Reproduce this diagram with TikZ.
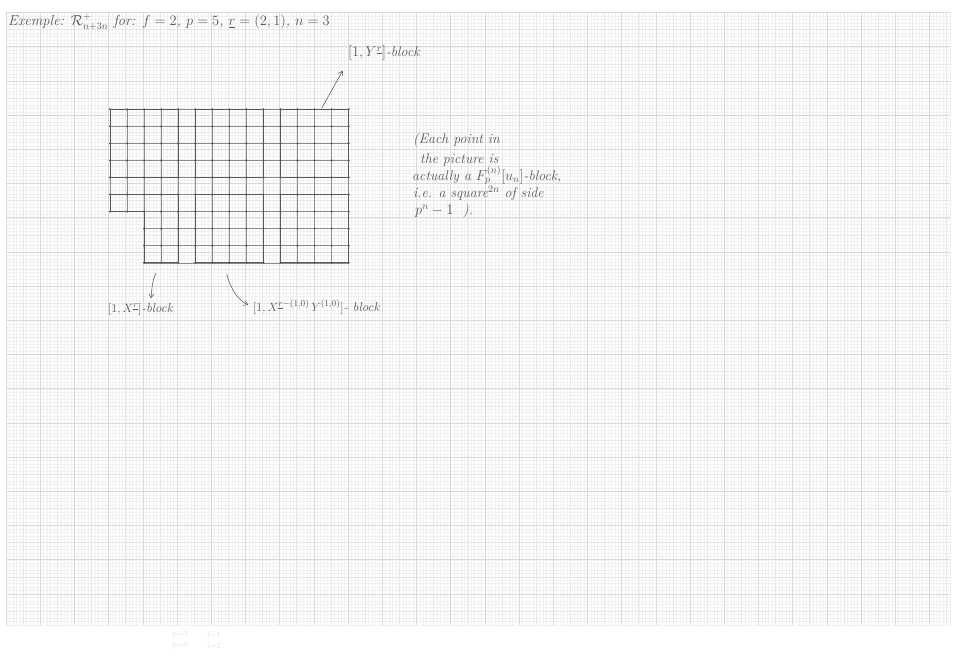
\documentclass[tikz,border=0pt]{standalone}
\usepackage{amssymb}
\usetikzlibrary{arrows.meta}
\definecolor{pencil}{HTML}{585858}
\definecolor{latgray}{HTML}{8C8C8C}
\definecolor{gridfine}{HTML}{F1F1F1}
\definecolor{gridmid}{HTML}{E7E7E7}
\definecolor{gridmaj}{HTML}{D9D9D9}
\begin{document}
\begin{tikzpicture}[x=1pt,y=-1pt,
  hand/.style={text=pencil, inner sep=0pt, anchor=west, font=\itshape\fontsize{14}{15}\selectfont},
  latline/.style={draw=latgray, line width=0.5pt},
  blockline/.style={draw=pencil, line width=0.8pt, line join=round},
  harrow/.style={draw=pencil, line width=0.55pt, -{Straight Barb[length=4pt,width=5pt]}},
  faint/.style={text=gray!22, inner sep=0pt, anchor=west, font=\fontsize{8}{9}\selectfont}]
\useasboundingbox (0,0) rectangle (954,661);
\fill[white] (0,0) rectangle (954,661);
% ---- graph paper ----
\foreach \i in {0,...,276} \draw[gridfine, line width=0.35pt] ({6+3.42*\i},12.5) -- ({6+3.42*\i},624.7);
\foreach \j in {0,...,179} \draw[gridfine, line width=0.35pt] (6,{12.5+3.42*\j}) -- (950,{12.5+3.42*\j});
\foreach \i in {0,5,...,275} \draw[gridmid, line width=0.45pt] ({6+3.42*\i},12.5) -- ({6+3.42*\i},624.7);
\foreach \j in {0,5,...,175} \draw[gridmid, line width=0.45pt] (6,{12.5+3.42*\j}) -- (950,{12.5+3.42*\j});
\foreach \i in {0,10,...,270} \draw[gridmaj, line width=0.6pt] ({6+3.42*\i},12.5) -- ({6+3.42*\i},624.7);
\foreach \j in {0,10,...,170} \draw[gridmaj, line width=0.6pt] (6,{12.5+3.42*\j}) -- (950,{12.5+3.42*\j});
% ---- lattice of blocks ----
\begin{scope}[shift={(110pt,-109.3pt)}, x=17.05pt, y=-17.05pt]
  \foreach \c in {0,1} \draw[latline] (\c,0) -- (\c,6);
  \foreach \c in {2,...,14} \draw[latline] (\c,0) -- (\c,9);
  \foreach \r in {0,...,6} \draw[latline] (0,\r) -- (14,\r);
  \foreach \r in {7,8,9} \draw[latline] (2,\r) -- (14,\r);
  \draw[blockline] (0,0) rectangle (4,4);
  \draw[blockline] (5,0) rectangle (9,4);
  \draw[blockline] (10,0) rectangle (14,4);
  \draw[blockline] (5,5) rectangle (9,9);
  \draw[blockline] (10,5) rectangle (14,9);
  \draw[blockline] (0,5) -- (4,5) -- (4,9) -- (2,9) -- (2,6) -- (0,6) -- cycle;
  \foreach \c in {0,...,14} \foreach \r in {0,...,6} \fill[pencil] (\c,\r) circle[radius=1.15pt];
  \foreach \c in {2,...,14} \foreach \r in {7,8,9} \fill[pencil] (\c,\r) circle[radius=1.15pt];
\end{scope}
% ---- texts ----
\node[hand, font=\itshape\fontsize{14.5}{16}\selectfont] (title) at (8,22)
  {Exemple: $\mathcal{R}^{+}_{n+3n}$ for: $f=2$, $p=5$, $\underline{r}=(2,1)$, $n=3$};
\node[hand] (yblock) at (348,53) {$[1, Y^{\underline{r}}]$-block};
\node[hand, font=\itshape\fontsize{13}{14}\selectfont] (xblock) at (108,309) {$[1, X^{\underline{r}}]$-block};
\node[hand, font=\itshape\fontsize{13}{14}\selectfont] (xyblock) at (253,307)
  {$[1, X^{\underline{r}-(1,0)}\,Y^{(1,0)}]$- block};
\node[hand] (n1) at (413,140) {(Each point in};
\node[hand] (n2) at (420,160) {the picture is};
\node[hand] (n3) at (412,175) {actually a $F_{p}^{(n)}[u_n]$-block,};
\node[hand] (n4) at (413,193) {i.e. a square$^{2n}$ of side};
\node[hand] (n5) at (415,211) {$p^{n}-1$\ \ ).};
\node[faint] (f1) at (172,635) {p=3};
\node[faint] (f2) at (207,635) {f=1};
\node[faint] (f3) at (172,646) {p=5};
\node[faint] (f4) at (207,646) {f=2};
% ---- arrows ----
\coordinate (a1s) at (321.7,108.3);
\coordinate (a1e) at (342.7,70.7);
\coordinate (a2s) at (155.7,273.3);
\coordinate (a2e) at (151,298.3);
\coordinate (a3s) at (226.7,274);
\coordinate (a3e) at (248.3,305);
\draw[harrow] (a1s) -- (a1e);
\draw[harrow] (a2s) .. controls (152.5,282) .. (a2e);
\draw[harrow] (a3s) .. controls (231,290) and (238,300) .. (a3e);
\end{tikzpicture}
\end{document}
